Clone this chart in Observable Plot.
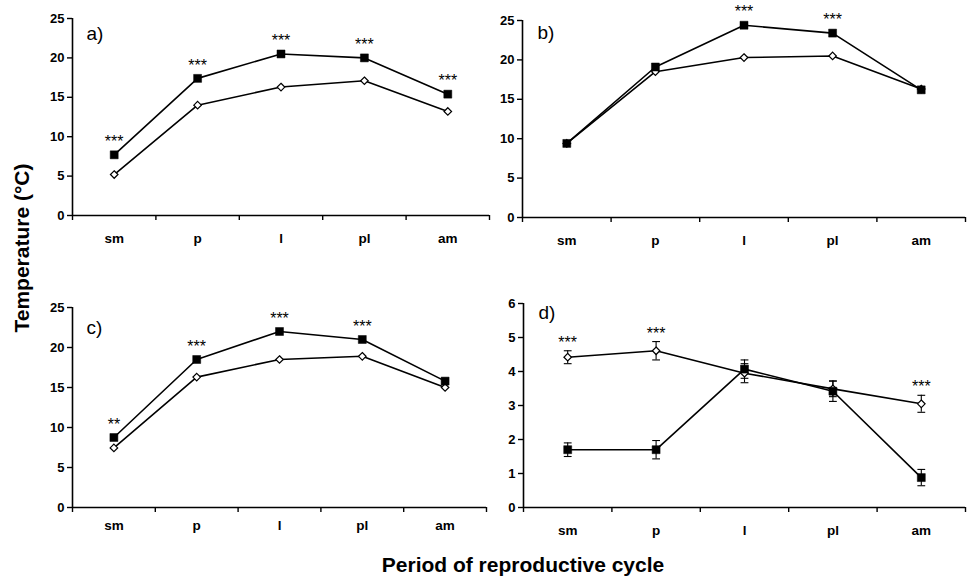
<!DOCTYPE html>
<html>
<head>
<meta charset="utf-8">
<script src="https://cdn.jsdelivr.net/npm/d3@7"></script>
<script src="https://cdn.jsdelivr.net/npm/@observablehq/plot@0.6"></script>
<style>
  html, body { margin: 0; padding: 0; background: #fff; }
  #fig { position: relative; width: 967px; height: 578px; font-family: "Liberation Sans", Arial, sans-serif; overflow: hidden; }
  #fig svg { position: absolute; }
  .ytitle { position: absolute; left: 22px; top: 248px; transform: translate(-50%, -50%) rotate(-90deg); font-weight: bold; font-size: 21px; white-space: nowrap; }
  .xtitle { position: absolute; left: 523px; top: 565px; transform: translate(-50%, -50%); font-weight: bold; font-size: 21px; white-space: nowrap; }
</style>
</head>
<body>
<div id="fig">
  <div class="ytitle">Temperature (°C)</div>
  <div class="xtitle">Period of reproductive cycle</div>
</div>
<script>
const categories = ["sm", "p", "l", "pl", "am"];

// Panel a
const filledA = [7.7, 17.4, 20.5, 20.0, 15.4];
const openA   = [5.2, 14.0, 16.3, 17.1, 13.2];
const starsA  = ["***", "***", "***", "***", "***"];

// Panel b
const filledB = [9.4, 19.1, 24.4, 23.4, 16.2];
const openB   = [9.4, 18.5, 20.3, 20.5, 16.3];
const starsB  = ["", "", "***", "***", ""];

// Panel c
const filledC = [8.75, 18.5, 22.0, 21.0, 15.8];
const openC   = [7.45, 16.3, 18.5, 18.9, 15.0];
const starsC  = ["**", "***", "***", "***", ""];

// Panel d
const filledD    = [1.70, 1.70, 4.07, 3.42, 0.88];
const filledErrD = [0.20, 0.27, 0.27, 0.30, 0.24];
const openD      = [4.42, 4.61, 3.95, 3.49, 3.05];
const openErrD   = [0.19, 0.27, 0.28, 0.23, 0.25];
const starsD     = ["***", "***", "", "", "***"];

const fig = document.getElementById("fig");

const capSymbol = {
  draw(ctx, size) {
    const w = Math.sqrt(size);
    ctx.moveTo(-w, 0);
    ctx.lineTo(w, 0);
  }
};

function panel(cfg) {
  const rows = categories.map((c, i) => ({
    i: i + 0.5,
    cat: c,
    filled: cfg.filled[i],
    open: cfg.open[i],
    fe: cfg.filledErr ? cfg.filledErr[i] : 0,
    oe: cfg.openErr ? cfg.openErr[i] : 0,
    star: cfg.stars[i]
  }));
  const marks = [
    Plot.ruleY([0], {stroke: "black", strokeWidth: 1.6}),
    Plot.ruleX([0], {stroke: "black", strokeWidth: 1.6}),
    Plot.axisY({ticks: cfg.yTicks, tickSize: 5, tickPadding: 3, fontSize: 13, fontWeight: "bold", strokeWidth: 1.4,
      tickFormat: d3.format("d"), label: null}),
    Plot.axisX({ticks: d3.range(0, categories.length + 1), tickSize: 5, tickFormat: () => "", strokeWidth: 1.4, label: null}),
    Plot.axisX({ticks: rows.map(d => d.i), tickSize: 0, tickPadding: cfg.labelPad, fontSize: 13.5, fontWeight: "bold",
      tickFormat: v => categories[Math.floor(v)], label: null}),
    Plot.line(rows, {x: "i", y: "open", stroke: "black", strokeWidth: 1.6}),
    Plot.line(rows, {x: "i", y: "filled", stroke: "black", strokeWidth: 1.6})
  ];
  if (cfg.openErr) {
    marks.push(
      Plot.ruleX(rows, {x: "i", y1: d => d.open - d.oe, y2: d => d.open + d.oe, stroke: "black", strokeWidth: 1.1}),
      Plot.dot(rows, {x: "i", y: d => d.open - d.oe, symbol: capSymbol, r: 2.2, stroke: "black", strokeWidth: 1.1}),
      Plot.dot(rows, {x: "i", y: d => d.open + d.oe, symbol: capSymbol, r: 2.2, stroke: "black", strokeWidth: 1.1}),
      Plot.ruleX(rows, {x: "i", y1: d => d.filled - d.fe, y2: d => d.filled + d.fe, stroke: "black", strokeWidth: 1.1}),
      Plot.dot(rows, {x: "i", y: d => d.filled - d.fe, symbol: capSymbol, r: 2.2, stroke: "black", strokeWidth: 1.1}),
      Plot.dot(rows, {x: "i", y: d => d.filled + d.fe, symbol: capSymbol, r: 2.2, stroke: "black", strokeWidth: 1.1})
    );
  }
  marks.push(
    Plot.dot(rows, {x: "i", y: "open", symbol: "diamond2", r: 3.4, fill: "white", stroke: "black", strokeWidth: 1.2}),
    Plot.dot(rows, {x: "i", y: "filled", symbol: "square", r: 4.5, fill: "black", stroke: "black", strokeWidth: 0.5}),
    Plot.text(rows.filter(d => d.star), {x: "i", y: d => Math.max(d.open + d.oe, d.filled + d.fe), text: "star",
      dy: cfg.starDy, fontSize: 16, fill: "black"}),
    Plot.text([cfg.label], {frameAnchor: "top-left", dx: cfg.labelDx, dy: cfg.labelDy, fontSize: 19, fill: "black"})
  );
  const svg = Plot.plot({
    width: cfg.width,
    height: cfg.height,
    marginLeft: cfg.marginLeft,
    marginRight: cfg.marginRight,
    marginTop: cfg.marginTop,
    marginBottom: cfg.marginBottom,
    style: {background: "transparent", overflow: "visible", fontFamily: "'Liberation Sans', Arial, sans-serif", color: "black"},
    x: {domain: [0, categories.length], axis: null},
    y: {domain: cfg.yDomain, axis: null},
    marks
  });
  svg.style.left = cfg.left + "px";
  svg.style.top = cfg.top + "px";
  svg.style.maxWidth = "none";
  fig.appendChild(svg);
}

panel({left: 0, top: 0, width: 495, height: 255, marginLeft: 72, marginRight: 6, marginTop: 18, marginBottom: 40,
  yDomain: [0, 25], yTicks: d3.range(0, 26, 5), filled: filledA, open: openA, stars: starsA,
  labelPad: 18, starDy: -13, label: "a)", labelDx: 14, labelDy: 8});
panel({left: 480, top: 0, width: 487, height: 257, marginLeft: 42, marginRight: 2, marginTop: 20, marginBottom: 40,
  yDomain: [0, 25], yTicks: d3.range(0, 26, 5), filled: filledB, open: openB, stars: starsB,
  labelPad: 18, starDy: -13, label: "b)", labelDx: 15, labelDy: 5});
panel({left: 0, top: 260, width: 495, height: 287, marginLeft: 72, marginRight: 9, marginTop: 47, marginBottom: 40,
  yDomain: [0, 25], yTicks: d3.range(0, 26, 5), filled: filledC, open: openC, stars: starsC,
  labelPad: 13, starDy: -13, label: "c)", labelDx: 14, labelDy: 13});
panel({left: 480, top: 260, width: 487, height: 287, marginLeft: 43, marginRight: 2, marginTop: 43, marginBottom: 40,
  yDomain: [0, 6], yTicks: d3.range(0, 7, 1), filled: filledD, open: openD, filledErr: filledErrD, openErr: openErrD, stars: starsD,
  labelPad: 18, starDy: -8, label: "d)", labelDx: 15, labelDy: 2});
</script>
</body>
</html>
